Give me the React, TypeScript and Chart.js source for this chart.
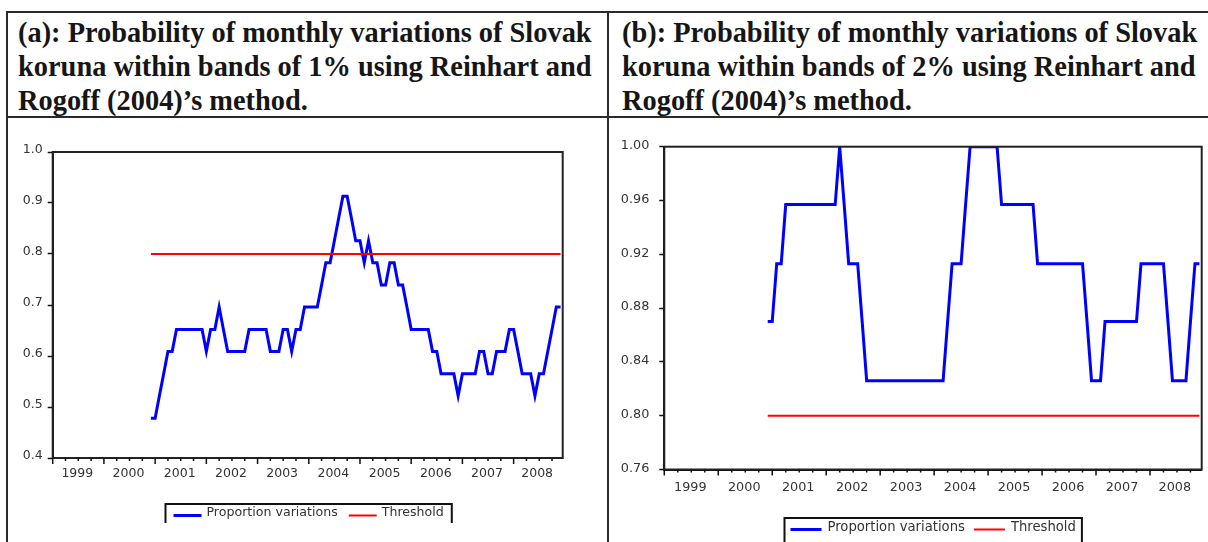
import React, { useEffect, useRef } from "react";
import { Chart, registerables } from "chart.js";

Chart.register(...registerables);

// ---------- data ----------
const years = ["1999", "2000", "2001", "2002", "2003", "2004", "2005", "2006", "2007", "2008"];
// observations are monthly, axis runs from 1999M01 (0) to 2008M12 (119)
const firstObs = 23; // 2000M12

// (a) band of 1%
const proportionA = [
  0.478, 0.478, 0.522, 0.565, 0.609, 0.609, 0.652, 0.652, 0.652, 0.652,
  0.652, 0.652, 0.652, 0.609, 0.652, 0.652, 0.696, 0.652, 0.609, 0.609,
  0.609, 0.609, 0.609, 0.652, 0.652, 0.652, 0.652, 0.652, 0.609, 0.609,
  0.609, 0.652, 0.652, 0.609, 0.652, 0.652, 0.696, 0.696, 0.696, 0.696,
  0.739, 0.783, 0.783, 0.826, 0.870, 0.913, 0.913, 0.870, 0.826, 0.826,
  0.783, 0.826, 0.783, 0.783, 0.739, 0.739, 0.783, 0.783, 0.739, 0.739,
  0.696, 0.652, 0.652, 0.652, 0.652, 0.652, 0.609, 0.609, 0.565, 0.565,
  0.565, 0.565, 0.522, 0.565, 0.565, 0.565, 0.565, 0.609, 0.609, 0.565,
  0.565, 0.609, 0.609, 0.609, 0.652, 0.652, 0.609, 0.565, 0.565, 0.565,
  0.522, 0.565, 0.565, 0.609, 0.652, 0.696, 0.696,
];

// (b) band of 2%
const proportionB = [
  0.870, 0.870, 0.913, 0.913, 0.957, 0.957, 0.957, 0.957, 0.957, 0.957,
  0.957, 0.957, 0.957, 0.957, 0.957, 0.957, 1.000, 0.957, 0.913, 0.913,
  0.913, 0.870, 0.826, 0.826, 0.826, 0.826, 0.826, 0.826, 0.826, 0.826,
  0.826, 0.826, 0.826, 0.826, 0.826, 0.826, 0.826, 0.826, 0.826, 0.826,
  0.870, 0.913, 0.913, 0.913, 0.957, 1.000, 1.000, 1.000, 1.000, 1.000,
  1.000, 1.000, 0.957, 0.957, 0.957, 0.957, 0.957, 0.957, 0.957, 0.957,
  0.913, 0.913, 0.913, 0.913, 0.913, 0.913, 0.913, 0.913, 0.913, 0.913,
  0.913, 0.870, 0.826, 0.826, 0.826, 0.870, 0.870, 0.870, 0.870, 0.870,
  0.870, 0.870, 0.870, 0.913, 0.913, 0.913, 0.913, 0.913, 0.913, 0.870,
  0.826, 0.826, 0.826, 0.826, 0.870, 0.913, 0.913,
];

const thresholdValue = 0.8;
const yTicksA = [0.4, 0.5, 0.6, 0.7, 0.8, 0.9, 1.0];
const yTicksB = [0.76, 0.8, 0.84, 0.88, 0.92, 0.96, 1.0];
const seriesLabels = ["Proportion variations", "Threshold"];

const AXIS_MAX = 119.5;
const SMALL_FONT = "DejaVu Sans";
const TEXT_COLOR = "#333";

// ---------- plugins ----------
const evFrame = {
  id: "evFrame",
  afterDraw(chart: any) {
    const { ctx, chartArea: a, scales } = chart;
    const xs = scales.x;
    ctx.save();
    ctx.strokeStyle = "#222";
    ctx.lineWidth = 2;
    ctx.strokeRect(a.left, a.top, a.right - a.left, a.bottom - a.top);
    ctx.strokeStyle = "#111";
    ctx.lineWidth = 1.5;
    ctx.beginPath();
    for (let m = 0; m <= 119; m += 3) {
      const x = xs.getPixelForValue(m);
      const len = m % 12 === 0 ? 6 : 3;
      ctx.moveTo(x, a.bottom);
      ctx.lineTo(x, a.bottom + len);
    }
    ctx.stroke();
    ctx.restore();
  },
};

const evLegend = {
  id: "evLegend",
  afterDraw(chart: any, _args: any, opts: any) {
    const { ctx, chartArea: a } = chart;
    const ds = chart.data.datasets;
    ctx.save();
    ctx.font = `${opts.fontSize}px '${SMALL_FONT}'`;
    const widths = ds.map((d: any) => ctx.measureText(d.label).width);
    const total =
      opts.pad * 2 +
      ds.length * (opts.sample + opts.gap) +
      widths.reduce((s: number, w: number) => s + w, 0) +
      (ds.length - 1) * opts.itemGap;
    const x0 = Math.round((a.left + a.right) / 2 - total / 2) + 0.5;
    const top = opts.top;
    ctx.strokeStyle = "#111";
    ctx.lineWidth = 2;
    ctx.beginPath();
    ctx.moveTo(x0, chart.height + 2);
    ctx.lineTo(x0, top);
    ctx.lineTo(x0 + total, top);
    ctx.lineTo(x0 + total, chart.height + 2);
    ctx.stroke();
    let x = x0 + opts.pad;
    ds.forEach((d: any, i: number) => {
      ctx.strokeStyle = d.borderColor;
      ctx.lineWidth = d.borderWidth;
      ctx.beginPath();
      ctx.moveTo(x, opts.sampleY);
      ctx.lineTo(x + opts.sample, opts.sampleY);
      ctx.stroke();
      x += opts.sample + opts.gap;
      ctx.fillStyle = TEXT_COLOR;
      ctx.textBaseline = "middle";
      ctx.textAlign = "left";
      ctx.fillText(d.label, x, opts.textY);
      x += widths[i] + opts.itemGap;
    });
    ctx.restore();
  },
};

type Geom = {
  width: number;
  height: number;
  left: number;
  top: number;
  right: number;
  bottom: number;
  yPad: number;
  yOffset: number;
  xPad: number;
  fontSize: number;
  legend: any;
};

function yearCenters(): number[] {
  return years.map((_, k) => (12 * k + Math.min(12 * k + 12, AXIS_MAX)) / 2);
}

function makeConfig(values: number[], yTicks: number[], decimals: number, g: Geom): any {
  const blue = values.map((v, j) => ({ x: firstObs + j, y: v }));
  const red = values.map((_, j) => ({ x: firstObs + j, y: thresholdValue }));
  const font = { family: SMALL_FONT, size: g.fontSize };
  return {
    type: "line",
    data: {
      datasets: [
        {
          label: seriesLabels[0],
          data: blue,
          borderColor: "#0000ff",
          backgroundColor: "#0000ff",
          borderWidth: 3,
          pointRadius: 0,
          tension: 0,
          order: 1,
        },
        {
          label: seriesLabels[1],
          data: red,
          borderColor: "#ff0000",
          backgroundColor: "#ff0000",
          borderWidth: 2,
          pointRadius: 0,
          tension: 0,
          order: 0,
        },
      ],
    },
    options: {
      responsive: false,
      animation: false,
      events: [],
      layout: { padding: { left: 0, top: g.top, right: g.width - g.right, bottom: 0 } },
      plugins: {
        legend: { display: false },
        tooltip: { enabled: false },
        evLegend: g.legend,
      },
      scales: {
        x: {
          type: "linear",
          min: 0,
          max: AXIS_MAX,
          afterBuildTicks: (s: any) => {
            s.ticks = yearCenters().map((v) => ({ value: v }));
          },
          afterFit: (s: any) => {
            s.height = g.height - g.bottom;
          },
          ticks: {
            autoSkip: false,
            maxRotation: 0,
            minRotation: 0,
            padding: g.xPad,
            color: TEXT_COLOR,
            font,
            labelOffset: -1,
            callback: (_v: any, i: number) => years[i],
          },
          grid: { display: true, drawOnChartArea: false, drawTicks: false },
          border: { display: true, color: "#111", width: 2 },
        },
        y: {
          type: "linear",
          min: yTicks[0],
          max: yTicks[yTicks.length - 1],
          afterBuildTicks: (s: any) => {
            s.ticks = yTicks.map((v) => ({ value: v }));
          },
          afterFit: (s: any) => {
            s.width = g.left;
          },
          ticks: {
            padding: g.yPad,
            color: TEXT_COLOR,
            font,
            labelOffset: g.yOffset,
            callback: (v: any) => Number(v).toFixed(decimals),
          },
          grid: {
            display: true,
            drawOnChartArea: false,
            drawTicks: true,
            tickLength: 5,
            tickColor: "#111",
            tickWidth: 1.5,
          },
          border: { display: true, color: "#111", width: 2 },
        },
      },
    },
    plugins: [evFrame, evLegend],
  };
}

const geomA: Geom = {
  width: 596,
  height: 404,
  left: 42.7,
  top: 33,
  right: 552.7,
  bottom: 339,
  yPad: 5,
  yOffset: -2,
  xPad: 8,
  fontSize: 12.5,
  legend: { top: 385, textY: 393.5, sampleY: 396.5, fontSize: 12.6, pad: 8, sample: 28, gap: 5, itemGap: 11 },
};

const geomB: Geom = {
  width: 594,
  height: 423,
  left: 54.3,
  top: 27.7,
  right: 591.7,
  bottom: 350.5,
  yPad: 10,
  yOffset: -1,
  xPad: 10,
  fontSize: 12.8,
  legend: { top: 399, textY: 409, sampleY: 410.5, fontSize: 13.2, pad: 6, sample: 31, gap: 6, itemGap: 9 },
};

function EvChart(props: { values: number[]; yTicks: number[]; decimals: number; geom: Geom; x: number; y: number }) {
  const ref = useRef<HTMLCanvasElement | null>(null);
  const { values, yTicks, decimals, geom, x, y } = props;
  useEffect(() => {
    if (!ref.current) return;
    const chart = new Chart(ref.current, makeConfig(values, yTicks, decimals, geom));
    return () => chart.destroy();
  }, []);
  return (
    <canvas
      ref={ref}
      width={geom.width}
      height={geom.height}
      style={{ position: "absolute", left: x, top: y, width: geom.width, height: geom.height }}
    />
  );
}

const headerStyle: React.CSSProperties = {
  position: "absolute",
  top: 16,
  fontFamily: "'Liberation Serif', serif",
  fontWeight: "bold",
  fontSize: "28.4px",
  lineHeight: "34px",
  color: "#161616",
  whiteSpace: "nowrap",
};

const line = (l: number, t: number, w: number, h: number): React.CSSProperties => ({
  position: "absolute",
  left: l,
  top: t,
  width: w,
  height: h,
  background: "#2a2a2a",
});

export default function App() {
  return (
    <div
      style={{
        position: "absolute",
        left: 0,
        top: 0,
        width: 1208,
        height: 542,
        overflow: "hidden",
        background: "#fff",
      }}
    >
      <div style={line(6, 11, 1202, 2)} />
      <div style={line(6, 116, 1202, 2)} />
      <div style={line(6, 11, 2, 531)} />
      <div style={line(607, 11, 2, 531)} />

      <div style={{ ...headerStyle, left: 18 }}>
        (a): Probability of monthly variations of Slovak
        <br />
        koruna within bands of 1% using Reinhart and
        <br />
        Rogoff (2004)’s method.
      </div>
      <div style={{ ...headerStyle, left: 622 }}>
        (b): Probability of monthly variations of Slovak
        <br />
        koruna within bands of 2% using Reinhart and
        <br />
        Rogoff (2004)’s method.
      </div>

      <EvChart values={proportionA} yTicks={yTicksA} decimals={1} geom={geomA} x={10} y={119} />
      <EvChart values={proportionB} yTicks={yTicksB} decimals={2} geom={geomB} x={610} y={119} />
    </div>
  );
}
